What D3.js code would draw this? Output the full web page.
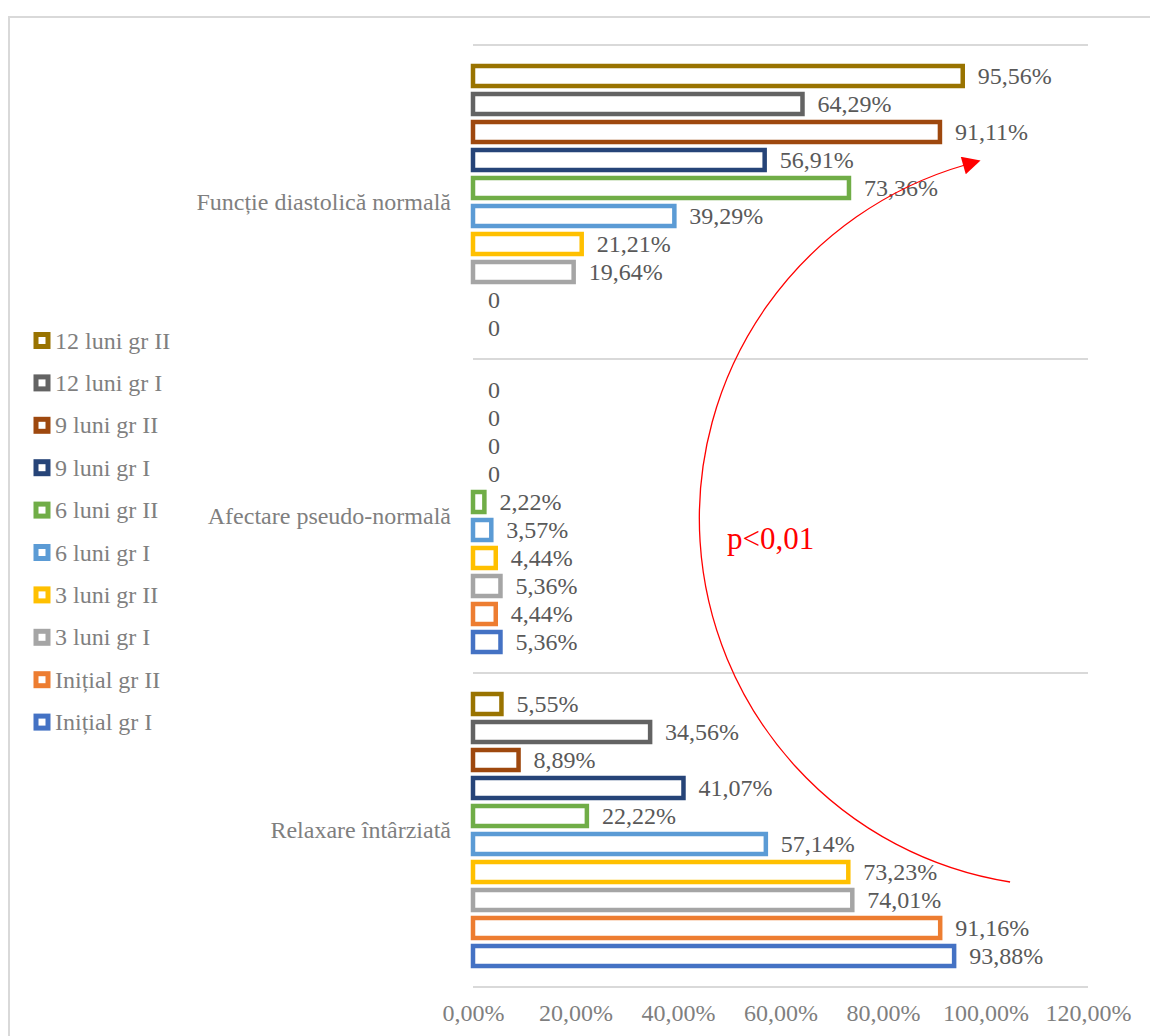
<!DOCTYPE html>
<html>
<head>
<meta charset="utf-8">
<script src="https://cdn.jsdelivr.net/npm/d3@7"></script>
<style>
    body { margin: 0; background: #fff; }
    svg text { font-family: 'Liberation Serif', 'DejaVu Serif', serif !important; }
</style>
</head>
<body>
<svg id="chart" width="1150" height="1036" font-family="Liberation Serif"></svg>
<script>
// categories, bottom to top in the source order
const categories = ["Relaxare întârziată", "Afectare pseudo-normală", "Funcție diastolică normală"];
const seriesNames = ["Inițial gr I", "Inițial gr II", "3 luni gr I", "3 luni gr II", "6 luni gr I",
    "6 luni gr II", "9 luni gr I", "9 luni gr II", "12 luni gr I", "12 luni gr II"];
const seriesColors = ["#4472C4", "#ED7D31", "#A5A5A5", "#FFC000", "#5B9BD5",
    "#70AD47", "#264478", "#9E480E", "#636363", "#997300"];

// values per category, in series order
const relaxare = [93.88, 91.16, 74.01, 73.23, 57.14, 22.22, 41.07, 8.89, 34.56, 5.55];
const pseudoNormala = [5.36, 4.44, 5.36, 4.44, 3.57, 2.22, 0, 0, 0, 0];
const normala = [0, 0, 19.64, 21.21, 39.29, 73.36, 56.91, 91.11, 64.29, 95.56];
const values = [relaxare, pseudoNormala, normala];

const xTicks = [0, 20, 40, 60, 80, 100, 120];

const svg = d3.select("#chart");
const fontFam = "'Liberation Serif', 'DejaVu Serif', serif";
const fs = 24;

// outer frame
svg.append("path")
    .attr("d", "M9,1036 V17 H1150")
    .attr("fill", "none")
    .attr("stroke", "#d9d9d9")
    .attr("stroke-width", 2);

const x = d3.scaleLinear().domain([0, 120]).range([473, 1088]);
const y = d3.scaleBand().domain(categories.slice().reverse()).range([45, 987]);
const yInner = d3.scaleBand().domain(seriesNames.slice().reverse())
    .range([17, y.bandwidth() - 17]);

// gridlines between categories
const gridY = categories.map(c => y(c)).concat([y.range()[1]]);
svg.selectAll(".grid").data(gridY).enter().append("line")
    .attr("x1", x(0)).attr("x2", x(120))
    .attr("y1", d => d).attr("y2", d => d)
    .attr("stroke", "#d9d9d9").attr("stroke-width", 2);

// x axis labels
const xAxis = d3.axisBottom(x).tickValues(xTicks)
    .tickFormat(d => d3.format(".2f")(d).replace(".", ",") + "%")
    .tickSize(0).tickPadding(0);
const gx = svg.append("g").attr("transform", "translate(0,1004)").call(xAxis);
gx.attr("font-family", fontFam).attr("font-size", fs);
gx.select(".domain").remove();
gx.selectAll("text")
    .attr("fill", "#7f7f7f")
    .attr("dy", "0.71em");

// category labels
svg.selectAll(".cat").data(categories).enter().append("text")
    .attr("x", 451)
    .attr("y", d => y(d) + y.bandwidth() / 2 + 8)
    .attr("text-anchor", "end")
    .attr("fill", "#7f7f7f")
    .attr("font-family", fontFam)
    .style("font-size", fs + "px")
    .text(d => d);

// bars
const groups = svg.selectAll(".grp").data(categories).enter().append("g")
    .attr("transform", d => "translate(0," + y(d) + ")");

groups.each(function(cat, ci) {
    const g = d3.select(this);
    const rows = seriesNames.map((s, si) => ({ s: s, v: values[ci][si], color: seriesColors[si] }));

    g.selectAll("rect").data(rows.filter(d => d.v > 0)).enter().append("rect")
        .attr("x", x(0))
        .attr("y", d => yInner(d.s) + yInner.bandwidth() / 2 - 10)
        .attr("width", d => x(d.v) - x(0))
        .attr("height", 20)
        .attr("fill", "#fff")
        .attr("stroke", d => d.color)
        .attr("stroke-width", 4.5);

    g.selectAll("text").data(rows).enter().append("text")
        .attr("x", d => x(d.v) + 15)
        .attr("y", d => yInner(d.s) + yInner.bandwidth() / 2 + 8)
        .attr("fill", "#595959")
        .attr("font-family", fontFam)
        .style("font-size", fs + "px")
        .text(d => d.v === 0 ? "0" : d3.format(".2f")(d.v).replace(".", ",") + "%");
});

// legend
const legend = svg.selectAll(".leg").data(seriesNames.slice().reverse()).enter().append("g")
    .attr("transform", (d, i) => "translate(42," + (340.5 + i * 42.4) + ")");
legend.append("rect")
    .attr("x", -6).attr("y", -6).attr("width", 12).attr("height", 12)
    .attr("fill", "#fff")
    .attr("stroke", d => seriesColors[seriesNames.indexOf(d)])
    .attr("stroke-width", 5);
legend.append("text")
    .attr("x", 13).attr("y", 8)
    .attr("fill", "#7f7f7f")
    .attr("font-family", fontFam)
    .style("font-size", fs + "px")
    .text(d => d);

// significance arc
svg.append("defs").append("marker")
    .attr("id", "arrow")
    .attr("viewBox", "0 0 10 10")
    .attr("refX", 1).attr("refY", 5)
    .attr("markerWidth", 24).attr("markerHeight", 18)
    .attr("markerUnits", "userSpaceOnUse")
    .attr("orient", "auto")
    .append("path").attr("d", "M0,0 L10,5 L0,10 Z").attr("fill", "#ff0000");

svg.append("path")
    .attr("d", "M" + x(104.8) + ",882 A368,368 0 0 1 " + x(96) + ",165")
    .attr("fill", "none")
    .attr("stroke", "#ff0000")
    .attr("stroke-width", 1.3)
    .attr("marker-end", "url(#arrow)");

svg.append("text")
    .attr("x", 727).attr("y", 549)
    .attr("fill", "#ff0000")
    .attr("font-family", fontFam)
    .style("font-size", "31px")
    .text("p<0,01");
</script>
</body>
</html>
